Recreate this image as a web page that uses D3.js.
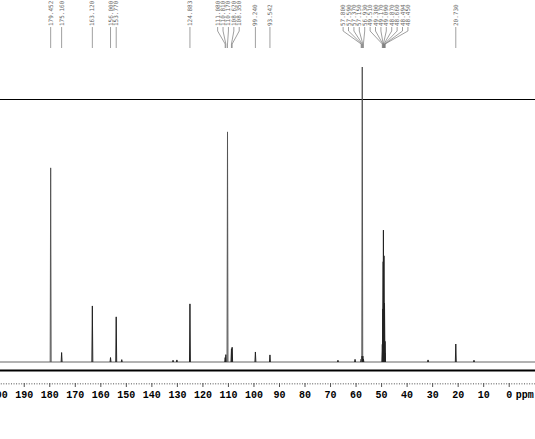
<!DOCTYPE html>
<html>
<head>
<meta charset="utf-8">
<script src="https://cdn.jsdelivr.net/npm/d3@7"></script>
<style>
  body { margin: 0; background: #fff; }
  svg { display: block; }
  .tick text { font-family: "Liberation Mono", "DejaVu Sans Mono", monospace; font-weight: bold; font-size: 10px; fill: #000; }
  .peak-label { font-family: "DejaVu Sans Mono", monospace; font-size: 6px; fill: #666; }
</style>
</head>
<body>
<div id="chart"></div>
<script>
var width = 535, height = 439;

// labelled peaks (ppm) and their heights (relative, tallest = 100)
var peakPpm    = [179.452, 175.160, 163.120, 156.000, 153.770, 124.883,
                  111.080, 110.810, 110.170, 108.620, 108.350, 99.240, 93.542,
                  57.800, 57.590, 57.370, 57.150, 56.930,
                  49.510, 49.300, 49.170, 49.090, 48.870, 48.660, 48.450, 48.494,
                  20.730];
var peakHeight = [65.8, 3.2, 19.0, 1.5, 15.3, 19.7,
                  1.5, 2.5, 78.0, 4.5, 5.0, 3.4, 2.4,
                  1.0, 2.0, 100, 2.0, 1.0,
                  6, 18, 34, 44.7, 36, 20, 7, 3,
                  6.1];

// small unlabelled bumps
var minorPpm    = [151.6, 131.5, 130.0, 66.9, 60.2, 31.6, 13.6];
var minorHeight = [0.8, 0.6, 0.7, 0.6, 0.9, 0.7, 0.6];

var tickValues = d3.range(0, 201, 10);

var svg = d3.select("#chart").append("svg")
    .attr("width", width)
    .attr("height", height);

// ---------------------------//
//       AXIS  AND SCALE      //
// ---------------------------//

var x = d3.scaleLinear()
    .domain([199.3, -10.3])
    .range([0, width]);

var y = d3.scaleLinear()
    .domain([0, 100])
    .range([362, 67]);

// frame lines
svg.append("line")
    .attr("x1", 0).attr("x2", width)
    .attr("y1", 99.5).attr("y2", 99.5)
    .attr("stroke", "#000").attr("stroke-width", 1);

svg.append("line")
    .attr("x1", 0).attr("x2", width)
    .attr("y1", 370.5).attr("y2", 370.5)
    .attr("stroke", "#000").attr("stroke-width", 2);

// minor ticks (dotted look)
svg.append("g")
    .attr("transform", "translate(0,383)")
    .call(d3.axisBottom(x).tickValues(d3.range(-10, 200, 1)).tickSize(1.5).tickFormat(""))
    .call(function(g) { g.select(".domain").remove(); })
    .selectAll("line").attr("stroke", "#888");

// major ticks + labels
var xAxis = svg.append("g")
    .attr("transform", "translate(0,383)")
    .call(d3.axisBottom(x).tickValues(tickValues).tickSize(4).tickPadding(4)
          .tickFormat(function(d) { return d; }))
    .call(function(g) { g.select(".domain").remove(); });
xAxis.selectAll("line").attr("stroke", "#555");

// unit label
svg.append("text")
    .attr("x", x(0) + 7)
    .attr("y", 398)
    .attr("font-family", "Liberation Mono, DejaVu Sans Mono, monospace")
    .attr("font-weight", "bold")
    .attr("font-size", 10)
    .text("ppm");

// ---------------------------//
//       SPECTRUM             //
// ---------------------------//

var halfWidth = 0.18;
var allPeaks = peakPpm.map(function(p, i) { return { ppm: p, h: peakHeight[i] }; })
    .concat(minorPpm.map(function(p, i) { return { ppm: p, h: minorHeight[i] }; }));

// baseline
svg.append("line")
    .attr("x1", x(199.3)).attr("x2", x(-10.3))
    .attr("y1", y(0)).attr("y2", y(0))
    .attr("stroke", "#666").attr("stroke-width", 1);

// each peak drawn as its own narrow spike
svg.append("g")
    .selectAll("path")
    .data(allPeaks)
    .enter()
    .append("path")
    .attr("d", function(d) {
        return "M" + x(d.ppm + halfWidth) + "," + y(0) +
               "L" + x(d.ppm) + "," + y(d.h) +
               "L" + x(d.ppm - halfWidth) + "," + y(0);
    })
    .attr("fill", "none")
    .attr("stroke", function(d) { return d.h > 60 ? "#555" : "#222"; })
    .attr("stroke-width", 1);

// ---------------------------//
//       PEAK LABELS          //
// ---------------------------//

var gap = 5.4;
var labels = peakPpm.map(function(p) { return { ppm: p, px: x(p), lx: x(p) }; })
    .sort(function(a, b) { return a.px - b.px; });

// push overlapping labels apart (group and centre)
var groups = labels.map(function(l) { return { items: [l], c: l.px }; });
var changed = true;
while (changed) {
    changed = false;
    for (var i = 0; i < groups.length - 1; i++) {
        var a = groups[i], b = groups[i + 1];
        var aRight = a.c + (a.items.length - 1) * gap / 2;
        var bLeft = b.c - (b.items.length - 1) * gap / 2;
        if (bLeft - aRight < gap) {
            var items = a.items.concat(b.items);
            var c = d3.mean(items, function(d) { return d.px; });
            groups.splice(i, 2, { items: items, c: c });
            changed = true;
            break;
        }
    }
}
groups.forEach(function(g) {
    g.items.forEach(function(l, k) {
        l.lx = g.c + (k - (g.items.length - 1) / 2) * gap;
    });
});

svg.append("g")
    .selectAll("path")
    .data(labels)
    .enter()
    .append("path")
    .attr("d", function(d) {
        return "M" + d.lx + ",27L" + d.lx + ",31L" + d.px + ",44L" + d.px + ",48";
    })
    .attr("fill", "none")
    .attr("stroke", "#777")
    .attr("stroke-width", 0.7);

svg.append("g")
    .selectAll("text")
    .data(labels)
    .enter()
    .append("text")
    .attr("class", "peak-label")
    .attr("transform", function(d) { return "translate(" + (d.lx + 2) + ",26) rotate(-90)"; })
    .text(function(d) { return d.ppm.toFixed(3); });
</script>
</body>
</html>
